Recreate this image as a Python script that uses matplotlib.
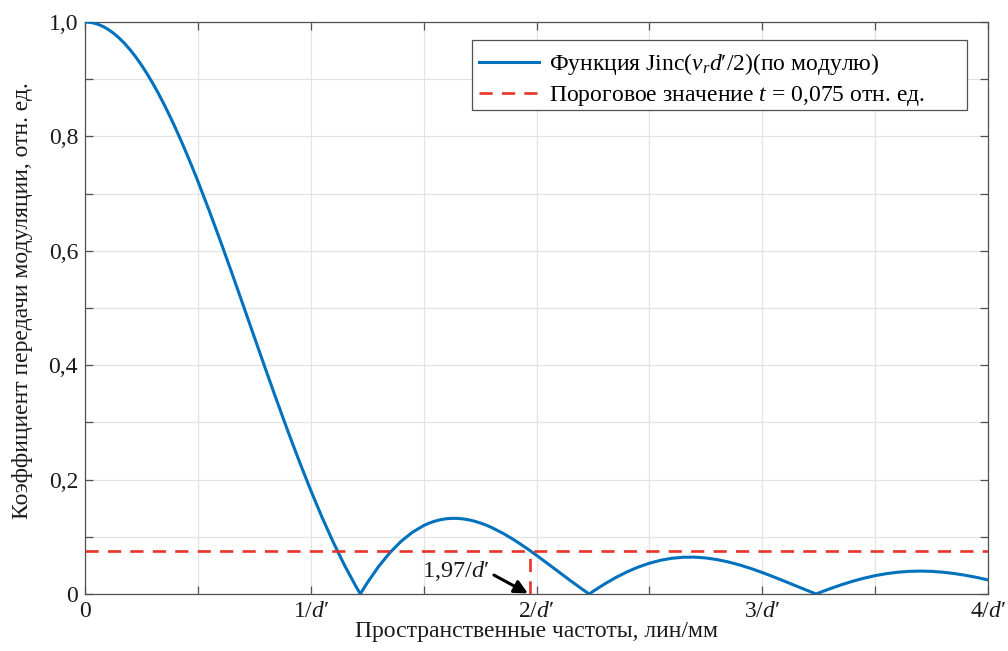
import numpy as np
import matplotlib
matplotlib.use('Agg')
import matplotlib.pyplot as plt
from matplotlib.patches import Rectangle

# |Jinc| curve, values (x in units of 1/d')
freq = [0.0, 0.0125, 0.025, 0.0375, 0.05, 0.0625, 0.075, 0.0875, 0.10, 0.125,
        0.15, 0.175, 0.20, 0.225, 0.25, 0.275, 0.30, 0.325, 0.35, 0.375,
        0.40, 0.425, 0.45, 0.475, 0.50, 0.55, 0.60, 0.65, 0.70, 0.75,
        0.80, 0.85, 0.90, 0.95, 1.00, 1.05, 1.10, 1.15, 1.20, 1.2197,
        1.25, 1.30, 1.35, 1.40, 1.45, 1.50, 1.525, 1.55, 1.575, 1.60,
        1.625, 1.65, 1.675, 1.70, 1.725, 1.75, 1.775, 1.80, 1.85, 1.90,
        1.95, 2.00, 2.05, 2.10, 2.15, 2.20, 2.2331, 2.25, 2.30, 2.35,
        2.40, 2.45, 2.50, 2.55, 2.60, 2.65, 2.70, 2.75, 2.80, 2.85,
        2.90, 2.95, 3.00, 3.05, 3.10, 3.15, 3.20, 3.2383, 3.25, 3.30,
        3.35, 3.40, 3.45, 3.50, 3.55, 3.60, 3.65, 3.70, 3.75, 3.80,
        3.85, 3.90, 3.95, 4.00]
mtf = [1.0000, 0.99981, 0.99923, 0.99827, 0.99692, 0.99519, 0.99308, 0.99058, 0.98771, 0.98085,
       0.97250, 0.96269, 0.95146, 0.93883, 0.92485, 0.90956, 0.89300, 0.87523, 0.85630, 0.83626,
       0.81518, 0.79311, 0.77014, 0.74631, 0.72170, 0.67045, 0.61696, 0.56185, 0.50574, 0.44923,
       0.39294, 0.33744, 0.28332, 0.23108, 0.18119, 0.13412, 0.09024, 0.04988, 0.01331, 0.0000,
       0.01930, 0.04774, 0.07197, 0.09197, 0.10779, 0.11954, 0.12393, 0.12736, 0.12987, 0.13147,
       0.13221, 0.13213, 0.13124, 0.12961, 0.12726, 0.12425, 0.12061, 0.11640, 0.10642, 0.09471,
       0.08164, 0.06760, 0.05298, 0.03812, 0.02339, 0.00909, 0.0000, 0.00448, 0.01707, 0.02846,
       0.03846, 0.04694, 0.05380, 0.05897, 0.06243, 0.06421, 0.06435, 0.06294, 0.06010, 0.05596,
       0.05070, 0.04448, 0.03750, 0.02997, 0.02207, 0.01402, 0.00600, 0.0000, 0.00179, 0.00919,
       0.01604, 0.02220, 0.02756, 0.03203, 0.03554, 0.03805, 0.03954, 0.04001, 0.03950, 0.03805,
       0.03575, 0.03266, 0.02891, 0.02459]

threshold = 0.075
cross_x = 1.97

xtick_pos = [0, 1, 2, 3, 4]
xtick_lbl = ['0', r'1/$d$′', r'2/$d$′', r'3/$d$′', r'4/$d$′']
ytick_pos = [0, 0.2, 0.4, 0.6, 0.8, 1.0]
ytick_lbl = ['0', '0,2', '0,4', '0,6', '0,8', '1,0']

plt.rcParams['font.family'] = ['Liberation Serif', 'DejaVu Serif']
plt.rcParams['mathtext.fontset'] = 'custom'
plt.rcParams['mathtext.rm'] = 'Liberation Serif'
plt.rcParams['mathtext.it'] = 'Liberation Serif:italic'

blue = '#0072BD'
red = '#E8342A'
axcol = '#505050'
txtcol = '#1a1a1a'

fig = plt.figure(figsize=(10.08, 6.51), dpi=100)
ax = fig.add_axes([0.0843, 0.0876, 0.8959, 0.8786])

ax.plot(freq, mtf, color=blue, lw=2.2, solid_joinstyle='round',
        label=r'Функция Jinc($v_r d$′/2)(по модулю)', zorder=3)
ax.plot([0, 4], [threshold, threshold], color=red, lw=1.9, dashes=(5, 3.5),
        label=r'Пороговое значение $t$ = 0,075 отн. ед.', zorder=3)
ax.plot([cross_x, cross_x], [0, threshold], color=red, lw=1.9, dashes=(5, 3.5), zorder=3)

ax.annotate(r'1,97/$d$′', xy=(1.962, 0.001), xytext=(1.495, 0.041),
            fontsize=17.5, va='center', ha='left', color=txtcol,
            arrowprops=dict(arrowstyle='-|>', color='black', lw=2.2,
                            mutation_scale=20, shrinkA=1, shrinkB=0, relpos=(1.0, 0.4)))

ax.set_xlim(0, 4)
ax.set_ylim(0, 1.0)
xt = np.arange(0, 4.01, 0.5)
ax.set_xticks(xt)
ax.set_xticklabels([xtick_lbl[xtick_pos.index(int(t))] if t == int(t) else '' for t in xt])
yt = np.round(np.arange(0, 1.01, 0.1), 1)
ax.set_yticks(yt)
ax.set_yticklabels([ytick_lbl[ytick_pos.index(t)] if t in ytick_pos else '' for t in yt])

ax.grid(True, color='#e3e3e3', lw=0.9)
ax.set_axisbelow(True)
ax.tick_params(direction='in', length=6, width=0.9, colors=axcol, labelsize=17,
               top=True, right=True, labelcolor=txtcol, pad=5)
for s in ax.spines.values():
    s.set_color(axcol)
    s.set_linewidth(0.9)

ax.set_xlabel('Пространственные частоты, лин/мм', fontsize=17, color=txtcol, labelpad=-1)
ax.set_ylabel('Коэффициент передачи модуляции, отн. ед.', fontsize=17, color=txtcol)
ax.yaxis.set_label_coords(-0.057, 0.512)

# legend box is wider than its text, as in the original
ax.add_patch(Rectangle((0.4286, 0.8462), 0.5481, 0.1223, transform=ax.transAxes,
                       facecolor='white', edgecolor=axcol, lw=0.9, zorder=4))
leg = ax.legend(loc='upper left', bbox_to_anchor=(0.4286, 0.962), borderaxespad=0,
                fontsize=17, frameon=False, handlelength=2.55, handletextpad=0.4,
                borderpad=0.3, labelspacing=0.3)
leg.set_zorder(5)

fig.savefig('out.png', dpi=100)
